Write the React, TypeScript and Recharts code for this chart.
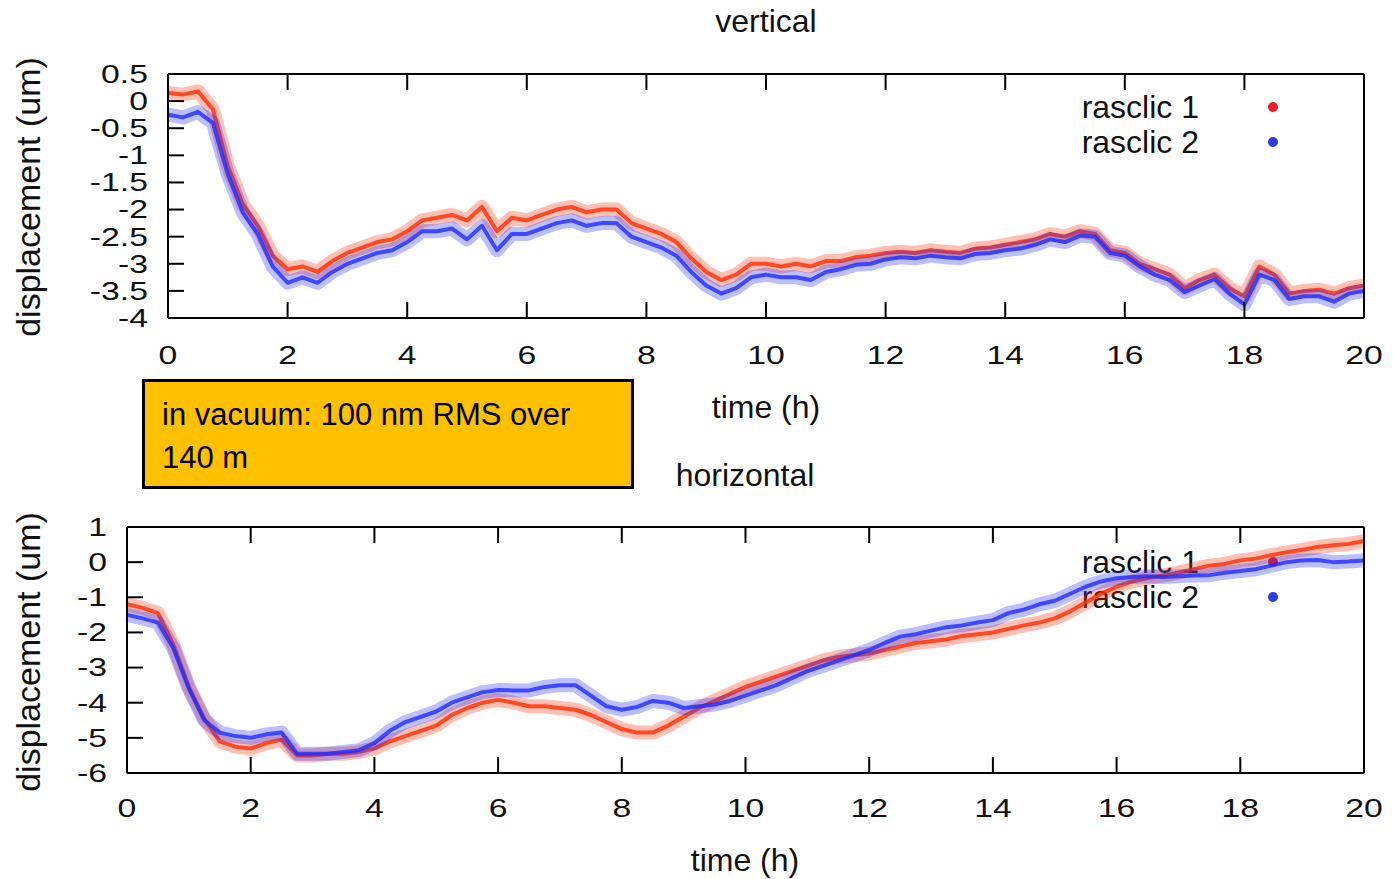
import React from 'react';
import { LineChart, Line, XAxis, YAxis, Legend } from 'recharts';

const HOURS = [
  0, 0.25, 0.5, 0.75, 1, 1.25, 1.5, 1.75, 2, 2.25, 2.5, 2.75, 3, 3.25, 3.5, 3.75,
  4, 4.25, 4.5, 4.75, 5, 5.25, 5.5, 5.75, 6, 6.25, 6.5, 6.75, 7, 7.25, 7.5, 7.75,
  8, 8.25, 8.5, 8.75, 9, 9.25, 9.5, 9.75, 10, 10.25, 10.5, 10.75, 11, 11.25, 11.5, 11.75,
  12, 12.25, 12.5, 12.75, 13, 13.25, 13.5, 13.75, 14, 14.25, 14.5, 14.75, 15, 15.25, 15.5, 15.75,
  16, 16.25, 16.5, 16.75, 17, 17.25, 17.5, 17.75, 18, 18.25, 18.5, 18.75, 19, 19.25, 19.5, 19.75,
  20,
];

// vertical panel
const VERT_R1 = [
  0.15, 0.12, 0.18, -0.15, -1.2, -1.9, -2.3, -2.85,
  -3.1, -3.05, -3.15, -2.95, -2.8, -2.7, -2.6, -2.55,
  -2.4, -2.2, -2.15, -2.1, -2.2, -1.95, -2.4, -2.15,
  -2.2, -2.1, -2.0, -1.95, -2.05, -2.0, -2.0, -2.25,
  -2.35, -2.45, -2.6, -2.9, -3.15, -3.3, -3.2, -3.0,
  -3.0, -3.05, -3.0, -3.05, -2.95, -2.95, -2.88, -2.85,
  -2.8, -2.78, -2.8, -2.75, -2.78, -2.8, -2.72, -2.7,
  -2.65, -2.6, -2.55, -2.45, -2.5, -2.4, -2.45, -2.75,
  -2.8, -3.0, -3.1, -3.2, -3.45, -3.3, -3.2, -3.45,
  -3.6, -3.05, -3.2, -3.55, -3.5, -3.48, -3.55, -3.45,
  -3.4,
];
const VERT_R2 = [
  -0.25, -0.3, -0.2, -0.4, -1.35, -2.05, -2.45, -3.05,
  -3.35, -3.25, -3.35, -3.15, -3.0, -2.9, -2.8, -2.75,
  -2.6, -2.4, -2.4, -2.35, -2.55, -2.3, -2.75, -2.45,
  -2.45, -2.35, -2.25, -2.2, -2.3, -2.25, -2.25, -2.5,
  -2.6, -2.7, -2.85, -3.15, -3.4, -3.55, -3.45, -3.25,
  -3.2, -3.25, -3.25, -3.3, -3.15, -3.1, -3.02, -3.0,
  -2.92, -2.88, -2.9, -2.85, -2.88, -2.9, -2.82, -2.8,
  -2.75, -2.72, -2.65, -2.55, -2.6, -2.48, -2.5, -2.8,
  -2.85, -3.05, -3.2, -3.3, -3.52, -3.4, -3.28, -3.55,
  -3.75, -3.2, -3.3, -3.65, -3.6, -3.6, -3.7, -3.55,
  -3.5,
];

// horizontal panel
const HORZ_R1 = [
  -1.2, -1.3, -1.45, -2.35, -3.55, -4.45, -5.1, -5.25,
  -5.3, -5.15, -5.05, -5.5, -5.5, -5.45, -5.45, -5.4,
  -5.3, -5.1, -4.95, -4.8, -4.65, -4.35, -4.15, -4.0,
  -3.92, -4.0, -4.1, -4.1, -4.15, -4.2, -4.35, -4.55,
  -4.75, -4.85, -4.85, -4.65, -4.4, -4.15, -3.95, -3.75,
  -3.55, -3.4, -3.25, -3.1, -2.95, -2.8, -2.7, -2.65,
  -2.6, -2.5, -2.4, -2.3, -2.25, -2.2, -2.1, -2.05,
  -2.0, -1.9, -1.8, -1.72, -1.6, -1.4, -1.15, -0.9,
  -0.7, -0.55, -0.45, -0.38, -0.3, -0.2, -0.1, -0.05,
  0.05, 0.1, 0.2, 0.28, 0.35, 0.43, 0.48, 0.52,
  0.6,
];
const HORZ_R2 = [
  -1.5, -1.6, -1.72, -2.45, -3.6, -4.5, -4.85, -4.95,
  -5.0, -4.9, -4.85, -5.45, -5.45, -5.45, -5.4, -5.35,
  -5.15, -4.8, -4.55, -4.4, -4.25, -4.0, -3.85, -3.7,
  -3.64, -3.65, -3.65, -3.55, -3.5, -3.5, -3.8, -4.1,
  -4.2, -4.12, -3.95, -4.0, -4.15, -4.1, -4.05, -3.95,
  -3.8, -3.65, -3.5, -3.3, -3.1, -2.95, -2.8, -2.65,
  -2.5, -2.3, -2.12, -2.05, -1.95, -1.85, -1.8, -1.72,
  -1.65, -1.45, -1.35, -1.2, -1.1, -0.9, -0.7, -0.55,
  -0.46, -0.42, -0.4, -0.42, -0.4, -0.38, -0.37, -0.3,
  -0.25, -0.2, -0.1, 0.0, 0.05, 0.06, 0.0, 0.02,
  0.05,
];

const X_TICKS = [0, 2, 4, 6, 8, 10, 12, 14, 16, 18, 20];
const VERT_TICKS = [-4, -3.5, -3, -2.5, -2, -1.5, -1, -0.5, 0, 0.5];
const HORZ_TICKS = [-6, -5, -4, -3, -2, -1, 0, 1];
const SERIES_NAMES = ['rasclic 1', 'rasclic 2'];

const RED = '#ff2a00';
const BLUE = '#1f2cff';
const FONT = '"Liberation Sans", Arial, Helvetica, sans-serif';
const TICK_LEN = 16;

const vertData = HOURS.map((t, i) => ({ t, r1: VERT_R1[i], r2: VERT_R2[i] }));
const horzData = HOURS.map((t, i) => ({ t, r1: HORZ_R1[i], r2: HORZ_R2[i] }));

const BottomTick = (labelOffset: number) => (props: any) => {
  const { x, y, payload } = props;
  return (
    <g>
      <line x1={x} x2={x} y1={y} y2={y - TICK_LEN} stroke="#000" strokeWidth={2} />
      <text
        transform={`translate(${x},${y + labelOffset}) scale(1.35,1)`}
        textAnchor="middle"
        dominantBaseline="central"
        fontSize={25}
        fontFamily={FONT}
        fill="#111"
      >
        {String(payload.value)}
      </text>
    </g>
  );
};

const TopTick = (props: any) => {
  const { x, y } = props;
  return <line x1={x} x2={x} y1={y} y2={y + TICK_LEN} stroke="#000" strokeWidth={2} />;
};

const LeftTick = (props: any) => {
  const { x, y, payload } = props;
  return (
    <g>
      <line x1={x} x2={x + TICK_LEN} y1={y} y2={y} stroke="#000" strokeWidth={2} />
      <text
        transform={`translate(${x - 20},${y}) scale(1.35,1)`}
        textAnchor="end"
        dominantBaseline="central"
        fontSize={25}
        fontFamily={FONT}
        fill="#111"
      >
        {String(payload.value)}
      </text>
    </g>
  );
};

const RightTick = (props: any) => {
  const { x, y } = props;
  return <line x1={x} x2={x - TICK_LEN} y1={y} y2={y} stroke="#000" strokeWidth={2} />;
};

const legendContent = (rowsTop: number) => () => (
  <div style={{ position: 'relative', width: 1394, height: 0 }}>
    {SERIES_NAMES.map((name, i) => (
      <div key={name}>
        <div
          style={{
            position: 'absolute',
            right: 1394 - 1199,
            top: rowsTop + i * 35 - 19,
            fontSize: 32,
            lineHeight: '38px',
            fontFamily: FONT,
            color: '#111',
            whiteSpace: 'nowrap',
          }}
        >
          {name}
        </div>
        <div
          style={{
            position: 'absolute',
            left: 1268,
            top: rowsTop + i * 35 - 5,
            width: 10,
            height: 10,
            borderRadius: 5,
            background: i === 0 ? '#ee1c24' : '#2b3fe0',
          }}
        />
      </div>
    ))}
  </div>
);

const axisLine = { stroke: '#000', strokeWidth: 2 };

function Panel(props: {
  data: any[];
  top: number;
  height: number;
  left: number;
  plotTop: number;
  plotBottom: number;
  domain: [number, number];
  yTicks: number[];
  labelOffset: number;
  legendTop: number;
  legendBehind: boolean;
}) {
  const { data, top, height, left, plotTop, plotBottom, domain, yTicks, labelOffset, legendTop, legendBehind } = props;
  return (
    <div style={{ position: 'absolute', left: 0, top }}>
      <LineChart
        width={1394}
        height={height}
        data={data}
        margin={{ top: plotTop - 20, right: 10, bottom: height - plotBottom - 40, left: left - 40 }}
      >
        <XAxis
          dataKey="t"
          type="number"
          domain={[0, 20]}
          ticks={X_TICKS}
          height={40}
          tickSize={0}
          tickMargin={0}
          tickLine={false}
          axisLine={axisLine}
          tick={BottomTick(labelOffset)}
          interval={0}
        />
        <XAxis
          xAxisId="top"
          orientation="top"
          dataKey="t"
          type="number"
          domain={[0, 20]}
          ticks={X_TICKS}
          height={20}
          tickSize={0}
          tickMargin={0}
          tickLine={false}
          axisLine={axisLine}
          tick={TopTick}
          interval={0}
        />
        <YAxis
          type="number"
          domain={domain}
          ticks={yTicks}
          width={40}
          tickSize={0}
          tickMargin={0}
          tickLine={false}
          axisLine={axisLine}
          tick={LeftTick}
          interval={0}
        />
        <YAxis
          yAxisId="right"
          orientation="right"
          type="number"
          domain={domain}
          ticks={yTicks}
          width={20}
          tickSize={0}
          tickMargin={0}
          tickLine={false}
          axisLine={axisLine}
          tick={RightTick}
          interval={0}
        />
        <Legend
          content={legendContent(legendTop)}
          wrapperStyle={{ position: 'absolute', left: 0, top: 0, width: 1394, height: 0, zIndex: legendBehind ? -1 : 1 }}
        />
        <Line dataKey="r1" name="rasclic 1" stroke={RED} strokeWidth={14} strokeOpacity={0.3} strokeLinejoin="round" dot={false} legendType="none" isAnimationActive={false} />
        <Line dataKey="r1" name="rasclic 1" stroke={RED} strokeWidth={4} strokeOpacity={0.8} strokeLinejoin="round" dot={false} isAnimationActive={false} />
        <Line dataKey="r2" name="rasclic 2" stroke={BLUE} strokeWidth={14} strokeOpacity={0.3} strokeLinejoin="round" dot={false} legendType="none" isAnimationActive={false} />
        <Line dataKey="r2" name="rasclic 2" stroke={BLUE} strokeWidth={4} strokeOpacity={0.8} strokeLinejoin="round" dot={false} isAnimationActive={false} />
      </LineChart>
    </div>
  );
}

const textStyle: React.CSSProperties = {
  position: 'absolute',
  fontFamily: FONT,
  fontSize: 32,
  color: '#111',
  whiteSpace: 'nowrap',
  transform: 'translate(-50%, -50%)',
  lineHeight: 1,
};

export default function App() {
  return (
    <div style={{ position: 'absolute', left: 0, top: 0, width: 1394, height: 879, background: '#fff', overflow: 'hidden', zIndex: 0 }}>
      <Panel
        data={vertData}
        top={0}
        height={440}
        left={168}
        plotTop={74}
        plotBottom={318}
        domain={[-4, 0.5]}
        yTicks={VERT_TICKS}
        labelOffset={37}
        legendTop={107}
        legendBehind={false}
      />
      <Panel
        data={horzData}
        top={440}
        height={439}
        left={127}
        plotTop={87}
        plotBottom={333}
        domain={[-6, 1]}
        yTicks={HORZ_TICKS}
        labelOffset={35}
        legendTop={122}
        legendBehind={true}
      />

      <div style={{ ...textStyle, left: 766, top: 21 }}>vertical</div>
      <div style={{ ...textStyle, left: 766, top: 407 }}>time (h)</div>
      <div style={{ ...textStyle, left: 745, top: 475 }}>horizontal</div>
      <div style={{ ...textStyle, left: 745, top: 860 }}>time (h)</div>
      <div style={{ ...textStyle, left: 28, top: 197, fontSize: 34, transform: 'translate(-50%, -50%) rotate(-90deg)' }}>
        displacement (um)
      </div>
      <div style={{ ...textStyle, left: 28, top: 652, fontSize: 34, transform: 'translate(-50%, -50%) rotate(-90deg)' }}>
        displacement (um)
      </div>

      <div
        style={{
          position: 'absolute',
          left: 142,
          top: 379,
          width: 486,
          height: 104,
          background: '#ffc000',
          border: '3px solid #000',
          fontFamily: FONT,
          fontSize: 31,
          color: '#000',
        }}
      >
        <div style={{ position: 'absolute', left: 17, top: 15, whiteSpace: 'nowrap' }}>in vacuum: 100 nm RMS over</div>
        <div style={{ position: 'absolute', left: 17, top: 58, whiteSpace: 'nowrap' }}>140 m</div>
      </div>
    </div>
  );
}
